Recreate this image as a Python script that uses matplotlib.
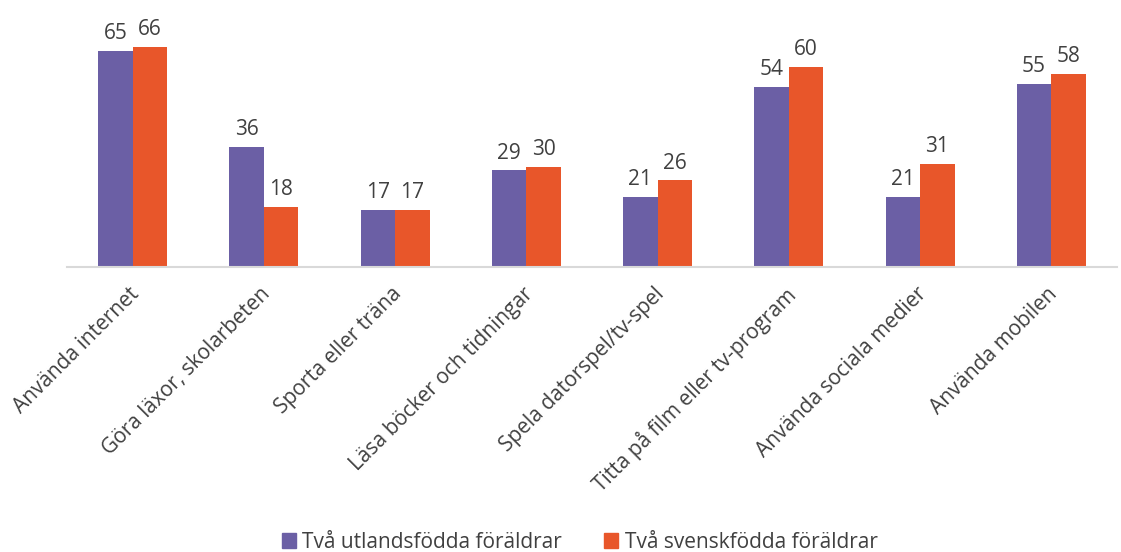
import numpy as np
import matplotlib.pyplot as plt
from matplotlib.patches import Patch
from matplotlib.transforms import ScaledTranslation

plt.rcParams['font.family'] = ['Open Sans', 'DejaVu Sans']

categories = ['Använda internet', 'Göra läxor, skolarbeten', 'Sporta eller träna',
              'Läsa böcker och tidningar', 'Spela datorspel/tv-spel',
              'Titta på film eller tv-program', 'Använda sociala medier', 'Använda mobilen']
utlandsfodda = [65, 36, 17, 29, 21, 54, 21, 55]
svenskfodda = [66, 18, 17, 30, 26, 60, 31, 58]
series_names = ['Två utlandsfödda föräldrar', 'Två svenskfödda föräldrar']

purple = '#6B5FA5'
orange = '#E8562A'
text_col = '#404040'

fig = plt.figure(figsize=(11.21, 5.52), dpi=100)
ax = fig.add_axes([0.0598, 0.5163, 0.9366, 0.4221])

x = np.arange(len(categories))
w = 0.263
b1 = ax.bar(x - w / 2, utlandsfodda, w, color=purple)
b2 = ax.bar(x + w / 2, svenskfodda, w, color=orange)

# value labels above bars
for bars, vals in ((b1, utlandsfodda), (b2, svenskfodda)):
    for r, v in zip(bars, vals):
        ax.annotate(str(v), (r.get_x() + r.get_width() / 2, v), xytext=(0, 5),
                    textcoords='offset points', ha='center', va='bottom',
                    fontsize=15, color=text_col)

ax.set_xlim(-0.5, len(categories) - 0.5)
ax.set_ylim(0, 70)
ax.set_yticks([])
for s in ['top', 'right', 'left']:
    ax.spines[s].set_visible(False)
ax.spines['bottom'].set_color('#D9D9D9')
ax.spines['bottom'].set_linewidth(1.5)

ax.set_xticks(x)
ax.set_xticklabels(categories, rotation=45, ha='right', va='top', rotation_mode='anchor',
                   fontsize=15, color=text_col)
ax.tick_params(axis='x', length=0, pad=12)
shift = ScaledTranslation(-3 / 72, 0, fig.dpi_scale_trans)
for lbl in ax.get_xticklabels():
    lbl.set_transform(lbl.get_transform() + shift)

handles = [Patch(color=purple), Patch(color=orange)]
fig.legend(handles, series_names, loc='lower center', bbox_to_anchor=(0.517, -0.035),
           ncol=2, frameon=False, fontsize=15, handlelength=0.7, handleheight=0.7,
           columnspacing=2.0, handletextpad=0.3, labelcolor=text_col)

fig.savefig('out.png', dpi=100)
